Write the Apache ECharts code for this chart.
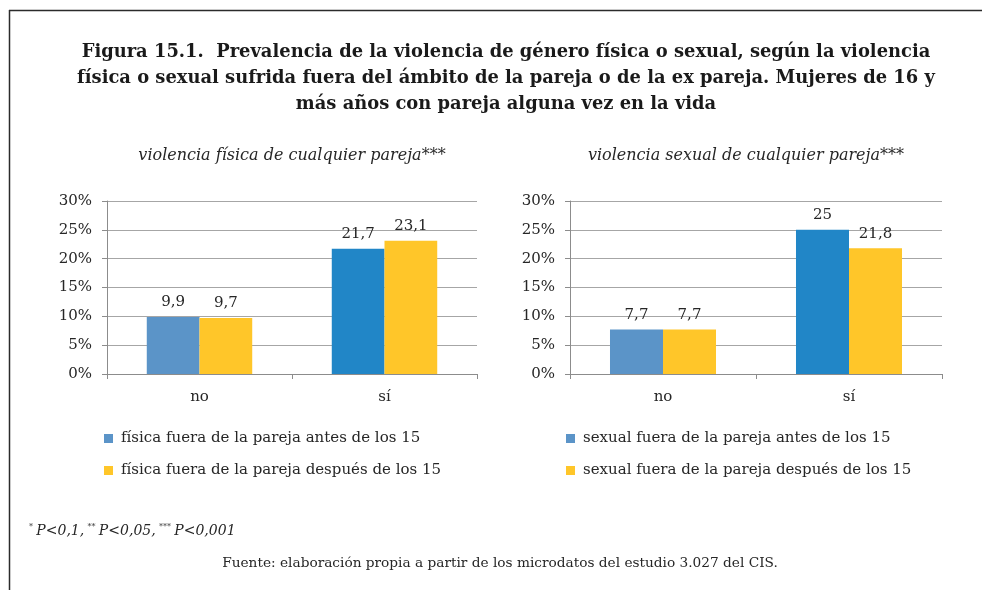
<!DOCTYPE html>
<html>
<head>
<meta charset="utf-8">
<script src="https://cdn.jsdelivr.net/npm/echarts@6/dist/echarts.min.js"></script>
<style>
  html, body { margin: 0; padding: 0; background: #fff; }
  #chart { width: 982px; height: 590px; }
</style>
</head>
<body>
<div id="chart"></div>
<script>
// Categories and values (percent)
const categories = ['no', 'sí'];
const fisicaAntes = [9.9, 21.7];
const fisicaDespues = [9.7, 23.1];
const sexualAntes = [7.7, 25];
const sexualDespues = [7.7, 21.8];

const seriesNames = [
  'física fuera de la pareja antes de los 15',
  'física fuera de la pareja después de los 15',
  'sexual fuera de la pareja antes de los 15',
  'sexual fuera de la pareja después de los 15'
];
const panelTitles = [
  'violencia física de cualquier pareja***',
  'violencia sexual de cualquier pareja***'
];
const yMin = 0, yMax = 30, yStep = 5;

const FONT = '"DejaVu Serif", Georgia, serif';
const LIGHT_BLUE = '#5b94c8';
const DARK_BLUE = '#2186c7';
const YELLOW = '#ffc629';
const TEXT = '#262626';

const chart = echarts.init(document.getElementById('chart'), null, { renderer: 'canvas' });

const commaLabel = p => String(p.value).replace('.', ',');

function blueData(values) {
  // the "sí" bar uses a deeper blue than the "no" bar
  return values.map((v, i) => i === 0 ? v : { value: v, itemStyle: { color: DARK_BLUE } });
}

function xAxisFor(gridIndex) {
  return {
    type: 'category', gridIndex, data: categories,
    axisLine: { lineStyle: { color: '#8c8c8c', width: 1 } },
    axisTick: { show: true, length: 5, lineStyle: { color: '#8c8c8c' } },
    axisLabel: { fontFamily: FONT, fontSize: 15, color: TEXT, margin: 16 }
  };
}
function yAxisFor(gridIndex) {
  return {
    type: 'value', gridIndex, min: yMin, max: yMax, interval: yStep,
    axisLine: { show: true, lineStyle: { color: '#8c8c8c', width: 1 } },
    axisTick: { show: true, length: 5, lineStyle: { color: '#8c8c8c' } },
    splitLine: { lineStyle: { color: '#a6a6a6', width: 1 } },
    axisLabel: { fontFamily: FONT, fontSize: 15, color: TEXT, margin: 15, formatter: '{value}%' }
  };
}
function barSeries(name, data, color, idx) {
  return {
    name, type: 'bar', xAxisIndex: idx, yAxisIndex: idx,
    data, barGap: '0%', barCategoryGap: '43%',
    itemStyle: { color },
    label: { show: true, position: 'top', distance: 7, formatter: commaLabel,
             fontFamily: FONT, fontSize: 15, color: TEXT }
  };
}

const legendText = { fontFamily: FONT, fontSize: 15, color: TEXT, padding: [0, 0, 0, 3] };

const option = {
  backgroundColor: '#ffffff',
  animation: false,
  title: [
    {
      text: 'Figura 15.1.  Prevalencia de la violencia de género física o sexual, según la violencia\nfísica o sexual sufrida fuera del ámbito de la pareja o de la ex pareja. Mujeres de 16 y\nmás años con pareja alguna vez en la vida',
      left: 501, top: 34, textAlign: 'center',
      textStyle: { fontFamily: FONT, fontWeight: 'bold', fontSize: 17.9, lineHeight: 26, color: '#1a1a1a' }
    },
    {
      text: panelTitles[0], left: 287, top: 143, textAlign: 'center',
      textStyle: { fontFamily: FONT, fontStyle: 'italic', fontWeight: 'normal', fontSize: 16, color: TEXT }
    },
    {
      text: panelTitles[1], left: 741, top: 143, textAlign: 'center',
      textStyle: { fontFamily: FONT, fontStyle: 'italic', fontWeight: 'normal', fontSize: 16, color: TEXT }
    }
  ],
  grid: [
    { left: 107, top: 201, width: 370, height: 173 },
    { left: 570, top: 201, width: 372, height: 173 }
  ],
  xAxis: [xAxisFor(0), xAxisFor(1)],
  yAxis: [yAxisFor(0), yAxisFor(1)],
  legend: [
    {
      data: [seriesNames[0], seriesNames[1]],
      orient: 'vertical', left: 99, top: 426, itemGap: 17,
      icon: 'rect', itemWidth: 9, itemHeight: 9,
      textStyle: legendText
    },
    {
      data: [seriesNames[2], seriesNames[3]],
      orient: 'vertical', left: 561, top: 426, itemGap: 17,
      icon: 'rect', itemWidth: 9, itemHeight: 9,
      textStyle: legendText
    }
  ],
  series: [
    barSeries(seriesNames[0], blueData(fisicaAntes), LIGHT_BLUE, 0),
    barSeries(seriesNames[1], fisicaDespues, YELLOW, 0),
    barSeries(seriesNames[2], blueData(sexualAntes), LIGHT_BLUE, 1),
    barSeries(seriesNames[3], sexualDespues, YELLOW, 1)
  ],
  graphic: [
    // frame: top rule and left rule
    { type: 'line', shape: { x1: 9, y1: 10.5, x2: 982, y2: 10.5 }, style: { stroke: '#2b2b2b', lineWidth: 1.5 } },
    { type: 'line', shape: { x1: 9.5, y1: 10, x2: 9.5, y2: 590 }, style: { stroke: '#2b2b2b', lineWidth: 1.5 } },
    {
      type: 'text', left: 29, top: 523,
      style: {
        text: '{s|*} {t|P<0,1,} {s|**} {t|P<0,05,} {s|***} {t|P<0,001}',
        rich: {
          s: { fontFamily: FONT, fontSize: 8, fill: TEXT, verticalAlign: 'top', padding: [0, 0, 9, 0] },
          t: { fontFamily: FONT, fontStyle: 'italic', fontSize: 14, fill: TEXT }
        }
      }
    },
    {
      type: 'text', x: 500, y: 563,
      style: {
        text: 'Fuente: elaboración propia a partir de los microdatos del estudio 3.027 del CIS.',
        fontFamily: FONT, fontSize: 13.7, fill: TEXT, textAlign: 'center', textVerticalAlign: 'middle'
      }
    }
  ]
};

chart.setOption(option);
</script>
</body>
</html>
